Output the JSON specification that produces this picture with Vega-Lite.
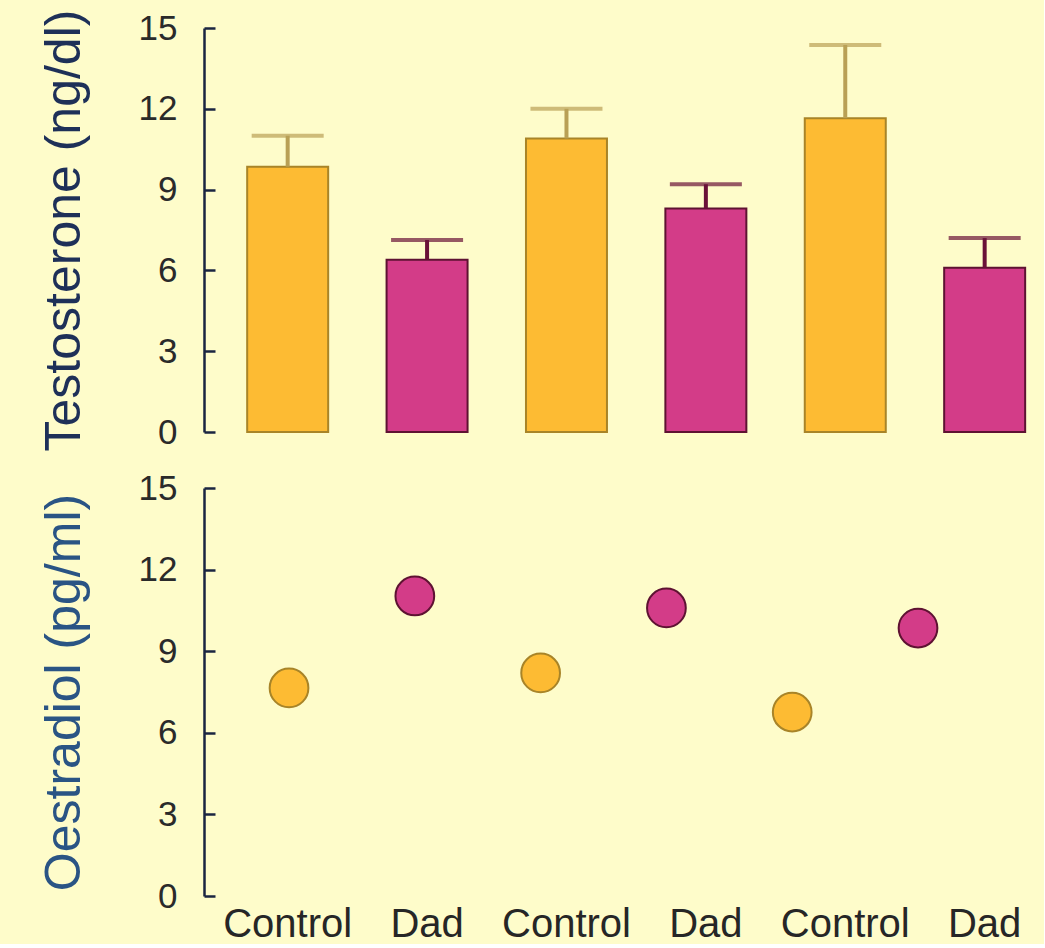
{
  "$schema": "https://vega.github.io/schema/vega-lite/v6.json",
  "background": "#FEFCCA",
  "padding": {"left": 39, "top": 9, "right": 10, "bottom": 0},
  "config": {
    "view": {"stroke": null},
    "font": "Liberation Sans",
    "axis": {
      "labelFont": "Liberation Sans",
      "titleFont": "Liberation Sans",
      "grid": false
    }
  },
  "data": {
    "values": [
      {"id": "Control 1", "cond": "Control", "testosterone": 9.85, "upper": 11.0, "oestradiol": 7.65},
      {"id": "Dad 1", "cond": "Dad", "testosterone": 6.4, "upper": 7.13, "oestradiol": 11.03},
      {"id": "Control 2", "cond": "Control", "testosterone": 10.9, "upper": 12.0, "oestradiol": 8.2},
      {"id": "Dad 2", "cond": "Dad", "testosterone": 8.3, "upper": 9.2, "oestradiol": 10.59},
      {"id": "Control 3", "cond": "Control", "testosterone": 11.65, "upper": 14.37, "oestradiol": 6.76},
      {"id": "Dad 3", "cond": "Dad", "testosterone": 6.1, "upper": 7.2, "oestradiol": 9.85}
    ]
  },
  "resolve": {"scale": {"x": "independent"}, "axis": {"x": "independent"}},
  "spacing": 20,
  "vconcat": [
    {
      "width": 830,
      "height": 404,
      "resolve": {"axis": {"y": "independent"}},
      "encoding": {
        "x": {
          "field": "id", "type": "nominal", "sort": null,
          "scale": {"type": "band", "paddingInner": 0.419, "paddingOuter": 0.1866, "align": 0.83},
          "axis": null
        }
      },
      "layer": [
        {
          "mark": {"type": "bar", "strokeWidth": 2},
          "encoding": {
            "y": {
              "field": "testosterone", "type": "quantitative",
              "scale": {"domain": [0, 15], "nice": false},
              "axis": {
                "title": "Testosterone (ng/dl)",
                "values": [0, 3, 6, 9, 12, 15],
                "domainColor": "#1a2540", "domainWidth": 2.5,
                "ticks": false,
                "labelFontSize": 35, "labelColor": "#2a2a2a", "labelPadding": 27,
                "titleFontSize": 50, "titleFontWeight": "normal", "titleColor": "#1e3058", "titlePadding": 49
              }
            },
            "fill": {
              "field": "cond", "type": "nominal",
              "scale": {"domain": ["Control", "Dad"], "range": ["#FDBB33", "#D33C88"]},
              "legend": null
            },
            "stroke": {
              "field": "cond", "type": "nominal",
              "scale": {"domain": ["Control", "Dad"], "range": ["#A88428", "#5E1232"]},
              "legend": null
            }
          }
        },
        {
          "mark": {"type": "rule", "strokeWidth": 4},
          "encoding": {
            "y": {"field": "testosterone", "type": "quantitative", "axis": null},
            "y2": {"field": "upper"},
            "color": {
              "field": "cond", "type": "nominal",
              "scale": {"domain": ["Control", "Dad"], "range": ["#B9A055", "#6A1238"]},
              "legend": null
            }
          }
        },
        {
          "mark": {"type": "tick", "thickness": 4, "size": 72},
          "encoding": {
            "y": {
              "field": "upper", "type": "quantitative",
              "axis": {
                "orient": "right", "offset": -830, "title": null,
                "values": [0, 3, 6, 9, 12, 15],
                "domain": false, "labels": false,
                "ticks": true, "tickSize": 11, "tickWidth": 2.5, "tickColor": "#1a2540"
              }
            },
            "color": {
              "field": "cond", "type": "nominal",
              "scale": {"domain": ["Control", "Dad"], "range": ["#B9A055", "#6A1238"]},
              "legend": null
            }
          }
        }
      ]
    },
    {
      "width": 830,
      "height": 408,
      "resolve": {"scale": {"x": "independent"}, "axis": {"x": "independent", "y": "independent"}},
      "layer": [
        {
          "mark": {"type": "point", "opacity": 0},
          "encoding": {
            "x": {
              "field": "id", "type": "nominal", "sort": null,
              "scale": {"type": "band", "paddingInner": 0.419, "paddingOuter": 0.1866, "align": 0.83},
              "axis": {
                "orient": "bottom", "title": null, "domain": false, "ticks": false,
                "labelAngle": 0, "labelFontSize": 40, "labelColor": "#262626", "labelPadding": 8,
                "labelExpr": "split(datum.label, ' ')[0]"
              }
            },
            "y": {
              "field": "oestradiol", "type": "quantitative",
              "axis": {
                "orient": "right", "offset": -830, "title": null,
                "values": [0, 3, 6, 9, 12, 15],
                "domain": false, "labels": false,
                "ticks": true, "tickSize": 11, "tickWidth": 2.5, "tickColor": "#1a2540"
              }
            }
          }
        },
        {
          "mark": {"type": "point", "filled": true, "strokeWidth": 2, "size": 1500, "opacity": 1},
          "encoding": {
            "x": {
              "field": "id", "type": "nominal", "sort": null,
              "scale": {"type": "point", "padding": 0.799, "align": 0.423},
              "axis": null
            },
            "y": {
              "field": "oestradiol", "type": "quantitative",
              "scale": {"domain": [0, 15], "nice": false},
              "axis": {
                "title": "Oestradiol (pg/ml)",
                "orient": "left",
                "values": [0, 3, 6, 9, 12, 15],
                "domainColor": "#1a2540", "domainWidth": 2.5,
                "ticks": false,
                "labelFontSize": 35, "labelColor": "#2a2a2a", "labelPadding": 27,
                "titleFontSize": 50, "titleFontWeight": "normal", "titleColor": "#2a5484", "titlePadding": 49
              }
            },
            "fill": {
              "field": "cond", "type": "nominal",
              "scale": {"domain": ["Control", "Dad"], "range": ["#FDB92E", "#D92E90"]},
              "legend": null
            },
            "stroke": {
              "field": "cond", "type": "nominal",
              "scale": {"domain": ["Control", "Dad"], "range": ["#C8952A", "#6A1438"]},
              "legend": null
            }
          }
        }
      ]
    }
  ]
}
